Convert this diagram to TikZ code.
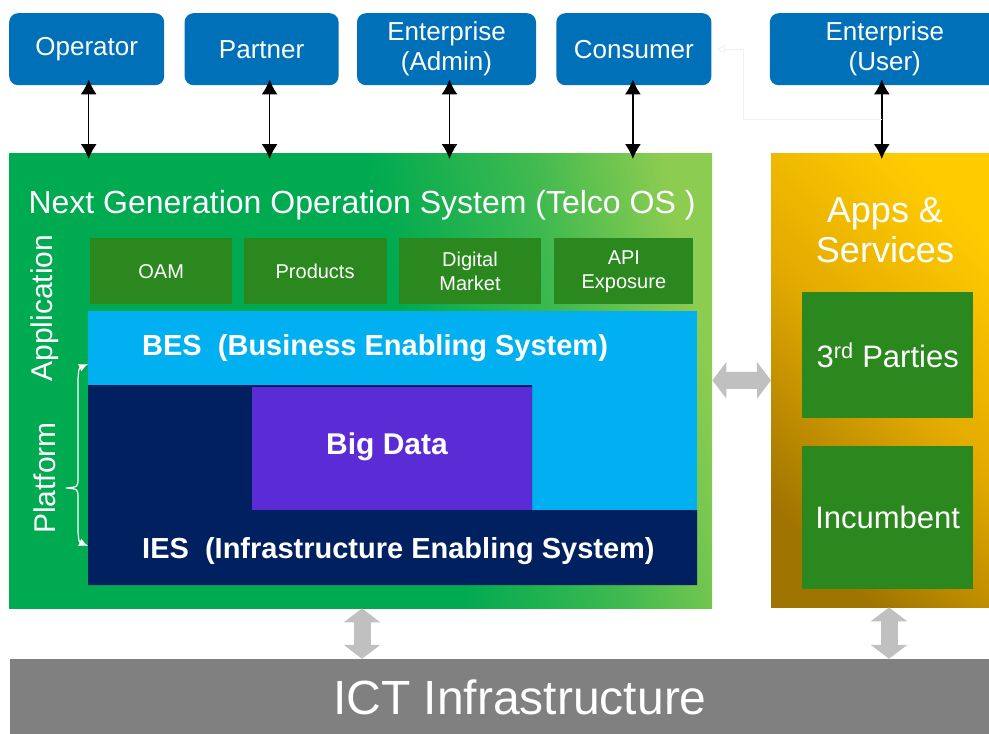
\documentclass[tikz,border=0pt]{standalone}
\usepackage{fontspec}
\setmainfont{Liberation Sans}
\usepackage{tikz}
\usetikzlibrary{positioning}
\usetikzlibrary{calc}
\usetikzlibrary{arrows.meta}

\definecolor{actorblue}{RGB}{0,112,184}
\definecolor{osgreen}{RGB}{0,170,80}
\definecolor{oslight}{RGB}{140,204,80}
\definecolor{modgreen}{RGB}{42,136,30}
\definecolor{besblue}{RGB}{0,176,240}
\definecolor{iesnavy}{RGB}{0,32,96}
\definecolor{bigpurple}{RGB}{91,44,214}
\definecolor{golddark}{RGB}{160,116,0}
\definecolor{goldmid}{RGB}{226,170,0}
\definecolor{goldlight}{RGB}{255,204,0}
\definecolor{ictgray}{RGB}{128,128,128}
\definecolor{arrgray}{RGB}{192,192,192}

\pgfdeclarehorizontalshading{osshade}{100bp}{color(0bp)=(osgreen); color(25bp)=(osgreen); color(54bp)=(osgreen); color(66bp)=(oslight!45!osgreen); color(76bp)=(oslight); color(100bp)=(oslight)}
\pgfdeclarehorizontalshading{appshade}{100bp}{color(0bp)=(golddark); color(25bp)=(golddark); color(50bp)=(goldmid); color(75bp)=(goldlight); color(100bp)=(goldlight)}

\begin{document}
\begin{tikzpicture}[x=1pt, y=-1pt,
  actor/.style={fill=actorblue, rounded corners=9pt, text=white, align=center, minimum height=72pt, inner sep=0pt, font=\fontsize{26}{30}\selectfont},
  module/.style={fill=modgreen, text=white, align=center, minimum height=66pt, inner sep=0pt, font=\fontsize{20}{24}\selectfont},
  tile/.style={fill=modgreen, text=white, align=center, minimum width=171pt, inner sep=0pt, font=\fontsize{31}{36}\selectfont},
  lbl/.style={text=white, inner sep=0pt, font=\bfseries\fontsize{29}{34}\selectfont},
  side/.style={text=white, rotate=90, font=\fontsize{30}{36}\selectfont},
  link/.style={{Latex[length=15pt,width=16pt]}-{Latex[length=15pt,width=16pt]}, line width=1.5pt, shorten <=-6pt, shorten >=-6pt},
  garrow/.style={draw=arrgray, line width=17pt, {Triangle[length=14pt,width=36pt]}-{Triangle[length=14pt,width=36pt]}},
  ghost/.style={draw=black!6, line width=0.8pt, -{Triangle[open,length=8pt,width=8pt]}, shorten >=5pt}]
  \useasboundingbox (0,0) rectangle (989,734);
  \clip (0,0) rectangle (989,734);

  % actors on top
  \node[actor, minimum width=155pt, anchor=north west] (op) at (9,13) {Operator};
  \node[actor, minimum width=154pt, right=20pt of op] (pa) {Partner};
  \node[actor, minimum width=179pt, right=18pt of pa] (ea) {Enterprise\\(Admin)};
  \node[actor, minimum width=155pt, right=20pt of ea] (co) {Consumer};
  \node[actor, minimum width=230pt, right=58pt of co] (eu) {Enterprise\\(User)};

  % telco os
  \node[shade, shading=osshade, shading angle=12, anchor=north west, minimum width=703pt, minimum height=455pt, inner sep=0pt] (g) at (9,153) {};
  \node[text=white, font=\fontsize{32}{36}\selectfont] (ttl) at (362,205) {Next Generation Operation System (Telco OS )};

  \node[module, minimum width=142pt, anchor=north west] (oam) at (90,238) {OAM};
  \node[module, minimum width=143pt, right=11pt of oam] (prod) {Products};
  \node[module, minimum width=142pt, right=12pt of prod] (dm) {Digital\\Market};
  \node[module, minimum width=139pt, right=13pt of dm] (api) {API\\Exposure};

  \node[fill=besblue, anchor=north west, minimum width=609pt, minimum height=199pt, inner sep=0pt] (bes) at (88,311) {};
  \fill[iesnavy] (88,385) -- (532,385) -- (532,510) -- (697,510) -- (697,585) -- (88,585) -- cycle;
  \node[fill=bigpurple, anchor=north west, minimum width=280pt, minimum height=123pt, inner sep=0pt] (bd) at (252,387) {};
  \node[text=white, font=\bfseries\fontsize{30}{36}\selectfont] (bdt) at (387,447) {Big Data};

  \node[lbl, anchor=base west] (bt) at (142,355) {BES~~(Business Enabling System)};
  \node[lbl, anchor=base west] (it) at (142,558) {IES~~(Infrastructure Enabling System)};

  \node[side] (app) at (45,308) {Application};
  \node[side] (plf) at (45,478) {Platform};
  \draw[white, line width=1.2pt, {Latex[length=9pt,width=8pt]}-{Latex[length=9pt,width=8pt]}]
    (88,364) .. controls (79,368) .. (78,378) -- (78,478)
    .. controls (78,487) .. (66,488) .. controls (78,489) .. (78,498)
    -- (78,532) .. controls (79,542) .. (88,546);

  % apps and services
  \node[shade, shading=appshade, shading angle=45, anchor=north west, minimum width=236pt, minimum height=454pt, inner sep=0pt] (o) at (771,153) {};
  \node[text=white, align=center, font=\fontsize{36}{40}\selectfont] (as) at (885,230) {Apps \&\\Services};
  \node[tile, minimum height=126pt, anchor=north west] (tp) at (802,292) {3\textsuperscript{rd} Parties};
  \node[tile, minimum height=143pt, below=27pt of tp] (inc) {Incumbent};

  % infrastructure
  \node[fill=ictgray, text=white, minimum width=1020pt, minimum height=76pt, inner sep=0pt, font=\fontsize{48}{54}\selectfont] (ict) at (520,697) {ICT Infrastructure};

  \path[link] ([xshift=2pt]op.south) edge ([xshift=2pt]op.south |- g.north);
  \path[link] ([xshift=8pt]pa.south) edge ([xshift=8pt]pa.south |- g.north);
  \path[link] ([xshift=3pt]ea.south) edge ([xshift=3pt]ea.south |- g.north);
  \path[link] ([xshift=-1pt]co.south) edge ([xshift=-1pt]co.south |- g.north);
  \path[link] ([xshift=-3pt]eu.south) edge ([xshift=-3pt]eu.south |- o.north);

  \coordinate (m) at ($([xshift=-3pt]eu.south)!0.5!([xshift=-3pt]eu.south |- o.north)$);
  \draw[ghost] (m) -- (m -| 743,0) |- (co.east);

  \draw[garrow] (g) -- (o);
  \draw[garrow] (g.south -| 362,0) -- (ict.north -| 362,0);
  \draw[garrow] (o.south -| 889,0) -- (ict.north -| 889,0);
\end{tikzpicture}
\end{document}
